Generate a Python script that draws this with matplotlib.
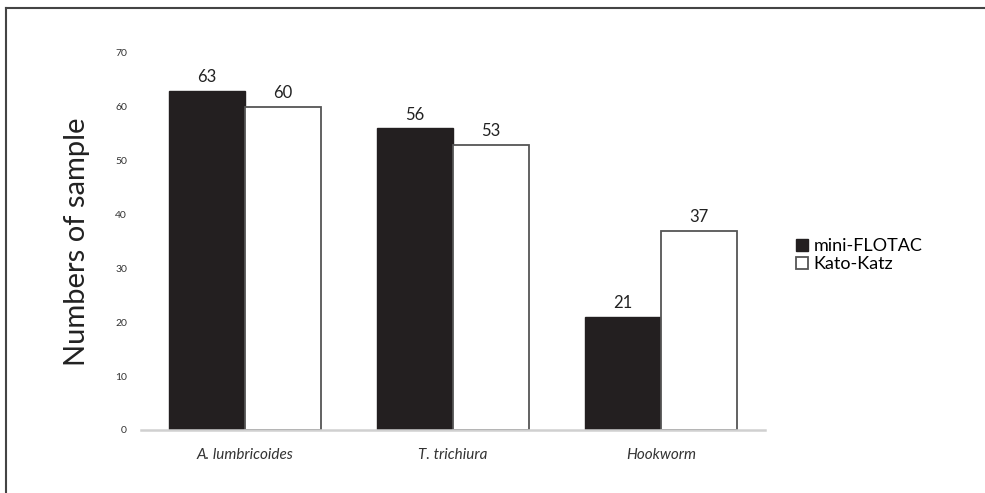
import matplotlib
matplotlib.use("Agg")
import matplotlib.pyplot as plt
from matplotlib.lines import Line2D
import numpy as np

categories = ["A. lumbricoides", "T. trichiura", "Hookworm"]
series_names = ["mini-FLOTAC", "Kato-Katz"]
mini_flotac = [63, 56, 21]
kato_katz = [60, 53, 37]
yticks = [0, 10, 20, 30, 40, 50, 60, 70]

plt.rcParams['font.family'] = ['Lato', 'DejaVu Sans']

fig = plt.figure(figsize=(9.85, 4.93), dpi=100)
ax = fig.add_axes([0.1431, 0.1278, 0.6335, 0.7647])

x = np.arange(len(categories))
w = 0.365
b1 = ax.bar(x - w/2, mini_flotac, w, color="#231f20", edgecolor="#231f20", linewidth=1.0, label=series_names[0])
b2 = ax.bar(x + w/2, kato_katz, w, color="white", edgecolor="#555555", linewidth=1.3, label=series_names[1])

for rect, v in zip(list(b1) + list(b2), mini_flotac + kato_katz):
    ax.annotate(str(v), (rect.get_x() + rect.get_width()/2, v), xytext=(0, 4),
                textcoords="offset points", ha="center", va="bottom", fontsize=12,
                color="#222222")

ax.set_xlim(-0.5, 2.5)
ax.set_ylim(0, 70)
ax.set_yticks(yticks)
ax.set_yticklabels([str(t) for t in yticks], fontsize=7.5, color="#333333")
ax.set_xticks(x)
ax.set_xticklabels(categories, fontsize=11, style="italic", color="#333333")
ax.tick_params(axis="both", length=0)
ax.tick_params(axis="y", pad=10)
ax.tick_params(axis="x", pad=13)
for s in ["top", "right", "left"]:
    ax.spines[s].set_visible(False)
ax.spines["bottom"].set_color("#d0d0d0")
ax.spines["bottom"].set_linewidth(1.8)
ax.set_ylabel("Numbers of sample", fontsize=21, color="#222222", labelpad=18)

leg = fig.legend(handles=[b1, b2], labels=series_names, loc="upper left",
                 bbox_to_anchor=(0.792, 0.55), frameon=False, fontsize=13,
                 handlelength=0.65, handleheight=0.65, handletextpad=0.3, labelspacing=0.12)

# figure border (top and left)
fig.add_artist(Line2D([0.006, 1.0], [0.983, 0.983], transform=fig.transFigure, color="#444444", linewidth=1.5))
fig.add_artist(Line2D([0.006, 0.006], [0.0, 0.983], transform=fig.transFigure, color="#444444", linewidth=1.5))

fig.savefig("out.png", dpi=100)
